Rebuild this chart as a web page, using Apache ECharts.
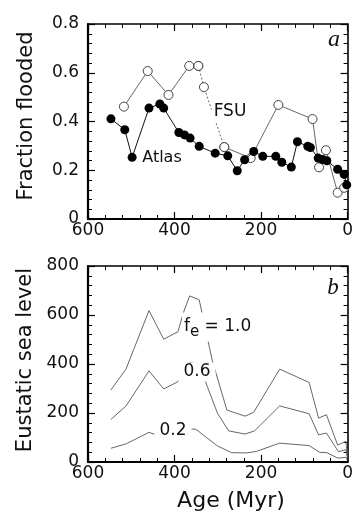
<!DOCTYPE html>
<html><head><meta charset="utf-8">
<script src="https://cdn.jsdelivr.net/npm/echarts@6/dist/echarts.min.js"></script>
<style>html,body{margin:0;padding:0;background:#fff}#c{width:356px;height:519px}</style>
</head><body><div id="c"></div>
<script>
// Panel a: fraction flooded
const atlasAge = [547, 515, 498, 459, 434, 425, 390, 377, 364, 343, 306, 277, 255, 238, 217, 196, 166, 152, 130, 116, 92, 86, 68, 58, 48, 23, 8, 2];
const atlasVal = [0.411, 0.366, 0.253, 0.455, 0.472, 0.455, 0.355, 0.345, 0.332, 0.298, 0.270, 0.259, 0.198, 0.243, 0.277, 0.257, 0.257, 0.233, 0.213, 0.317, 0.298, 0.293, 0.250, 0.244, 0.239, 0.204, 0.183, 0.14];
const fsuAge = [517, 462, 414, 366, 345, 332, 285, 224, 160, 81, 66, 50, 23, 8];
const fsuVal = [0.461, 0.607, 0.509, 0.628, 0.628, 0.541, 0.295, 0.250, 0.468, 0.410, 0.212, 0.282, 0.108, 0.128];
const fsuDottedFrom = 345, fsuDottedTo = 285; // ages bounding the dotted stretch
// Panel b: eustatic sea level for three f_e values
const sl10Age = [547, 512, 459, 425, 392, 380, 365, 343, 313, 279, 237, 217, 157, 89, 67, 49, 23, 4, 0];
const sl10Val = [294, 380, 618, 501, 532, 607, 678, 662, 416, 212, 187, 203, 379, 325, 179, 193, 69, 84, 20];
const sl06Age = [547, 512, 459, 425, 392, 365, 343, 324, 301, 275, 237, 215, 157, 89, 67, 49, 21, 4, 0];
const sl06Val = [174, 229, 372, 298, 328, 407, 398, 307, 200, 127, 114, 127, 229, 197, 111, 118, 42, 50, 14];
const sl02Age = [547, 512, 459, 425, 365, 350, 324, 301, 268, 234, 211, 157, 89, 64, 49, 23, 4, 0];
const sl02Val = [56, 74, 121, 100, 136, 133, 97, 66, 38, 37, 43, 77, 67, 39, 39, 16, 19, 8];
const xTicks = [0, 200, 400, 600];
const yTicksA = [0, 0.2, 0.4, 0.6, 0.8];
const yTicksB = [0, 200, 400, 600, 800];

const zip = (a, b) => a.map((v, i) => [v, b[i]]);
const FONT = 'DejaVu Sans';

function xAx(grid, pos, labels) {
  return {
    type: 'value', gridIndex: grid, position: pos, inverse: true,
    min: xTicks[0], max: xTicks[xTicks.length - 1], interval: 200,
    axisLine: {show: true, onZero: false, lineStyle: {color: '#000', width: pos === 'bottom' ? 2.2 : 1.6}},
    axisTick: {show: true, inside: true, length: 7, lineStyle: {color: '#000', width: 1.2}},
    minorTick: {show: true, splitNumber: 5, length: 4, lineStyle: {color: '#000', width: 1}},
    splitLine: {show: false}, minorSplitLine: {show: false},
    axisLabel: {show: labels, color: '#111', fontFamily: FONT, fontSize: 17, margin: 3}
  };
}
function yAx(grid, pos, labels, ticks, fmt) {
  return {
    type: 'value', gridIndex: grid, position: pos,
    min: ticks[0], max: ticks[ticks.length - 1], interval: ticks[1] - ticks[0],
    axisLine: {show: true, onZero: false, lineStyle: {color: '#000', width: pos === 'left' ? 2.2 : 1.6}},
    axisTick: {show: true, inside: true, length: 7, lineStyle: {color: '#000', width: 1.2}},
    minorTick: {show: true, splitNumber: 5, length: 4, lineStyle: {color: '#000', width: 1}},
    splitLine: {show: false}, minorSplitLine: {show: false},
    axisLabel: {show: labels, color: '#111', fontFamily: FONT, fontSize: 17, margin: 9, formatter: fmt}
  };
}

// split FSU into solid / dotted / solid pieces
const fsuPts = zip(fsuAge, fsuVal);
const iFrom = fsuAge.indexOf(fsuDottedFrom), iTo = fsuAge.indexOf(fsuDottedTo);
const fsuA = fsuPts.slice(0, iFrom + 1), fsuB = fsuPts.slice(iFrom, iTo + 1), fsuC = fsuPts.slice(iTo);

const fsuLine = (data, type, sym) => ({
  type: 'line', xAxisIndex: 0, yAxisIndex: 0, data: data, z: 3,
  symbol: sym ? 'circle' : 'none', symbolSize: 9,
  itemStyle: {color: '#fff', borderColor: '#444', borderWidth: 1},
  lineStyle: {color: '#555', width: 0.9, type: type}, animation: false, silent: true
});
const slLine = (data) => ({
  type: 'line', xAxisIndex: 2, yAxisIndex: 2, data: data, symbol: 'none',
  lineStyle: {color: '#555', width: 0.9}, animation: false, silent: true
});

const chart = echarts.init(document.getElementById('c'), null, {renderer: 'canvas'});
chart.setOption({
  backgroundColor: '#fff',
  animation: false,
  grid: [
    {left: 88, top: 24, width: 265, height: 195},
    {left: 88, top: 266, width: 265, height: 196}
  ],
  xAxis: [xAx(0, 'bottom', true), xAx(0, 'top', false), xAx(1, 'bottom', true), xAx(1, 'top', false)],
  yAxis: [
    yAx(0, 'left', true, yTicksA, v => v === 0 ? '0' : v.toFixed(1)),
    yAx(0, 'right', false, yTicksA),
    yAx(1, 'left', true, yTicksB, v => String(v)),
    yAx(1, 'right', false, yTicksB)
  ],
  series: [
    fsuLine(fsuA, 'solid', true),
    fsuLine(fsuB, [2, 2], true),
    fsuLine(fsuC, 'solid', true),
    {
      type: 'line', xAxisIndex: 0, yAxisIndex: 0, data: zip(atlasAge, atlasVal), z: 4,
      symbol: 'circle', symbolSize: 9, itemStyle: {color: '#000'},
      lineStyle: {color: '#111', width: 1}, animation: false, silent: true
    },
    slLine(zip(sl10Age, sl10Val)),
    slLine(zip(sl06Age, sl06Val)),
    slLine(zip(sl02Age, sl02Val))
  ],
  graphic: [
    {type: 'text', x: 27, y: 116, rotation: Math.PI / 2, z: 50,
     style: {text: 'Fraction flooded', font: '21px "DejaVu Sans"', fill: '#111', textAlign: 'center', textVerticalAlign: 'middle'}},
    {type: 'text', x: 26, y: 360, rotation: Math.PI / 2, z: 50,
     style: {text: 'Eustatic sea level', font: '21px "DejaVu Sans"', fill: '#111', textAlign: 'center', textVerticalAlign: 'middle'}},
    {type: 'text', x: 231, y: 501, z: 50,
     style: {text: 'Age (Myr)', font: '22px "DejaVu Sans"', fill: '#111', textAlign: 'center', textVerticalAlign: 'middle'}},
    {type: 'text', x: 334, y: 40, z: 50,
     style: {text: 'a', font: 'italic 24px "Liberation Serif"', fill: '#111', textAlign: 'center', textVerticalAlign: 'middle'}},
    {type: 'text', x: 333, y: 288, z: 50,
     style: {text: 'b', font: 'italic 23px "Liberation Serif"', fill: '#111', textAlign: 'center', textVerticalAlign: 'middle'}},
    {type: 'text', x: 230, y: 112, z: 50,
     style: {text: 'FSU', font: '17px "DejaVu Sans"', fill: '#111', textAlign: 'center', textVerticalAlign: 'middle', backgroundColor: '#fff', padding: [1, 2]}},
    {type: 'text', x: 162, y: 158, z: 50,
     style: {text: 'Atlas', font: '16px "DejaVu Sans"', fill: '#111', textAlign: 'center', textVerticalAlign: 'middle'}},
    {type: 'text', x: 182, y: 327, z: 50,
     style: {text: '{f|f}{e|e}{n| = 1.0}', textAlign: 'left', textVerticalAlign: 'middle', backgroundColor: '#fff', padding: [2, 2],
       rich: {f: {font: '17px "DejaVu Sans"', fill: '#111'}, e: {font: '15px "DejaVu Sans"', fill: '#111', padding: [10, 0, 0, 0]}, n: {font: '17px "DejaVu Sans"', fill: '#111'}}}},
    {type: 'text', x: 197, y: 372, z: 50,
     style: {text: '0.6', font: '17px "DejaVu Sans"', fill: '#111', textAlign: 'center', textVerticalAlign: 'middle', backgroundColor: '#fff', padding: [1, 5]}},
    {type: 'text', x: 173, y: 431, z: 50,
     style: {text: '0.2', font: '17px "DejaVu Sans"', fill: '#111', textAlign: 'center', textVerticalAlign: 'middle', backgroundColor: '#fff', padding: [1, 5]}}
  ]
});
</script></body></html>
